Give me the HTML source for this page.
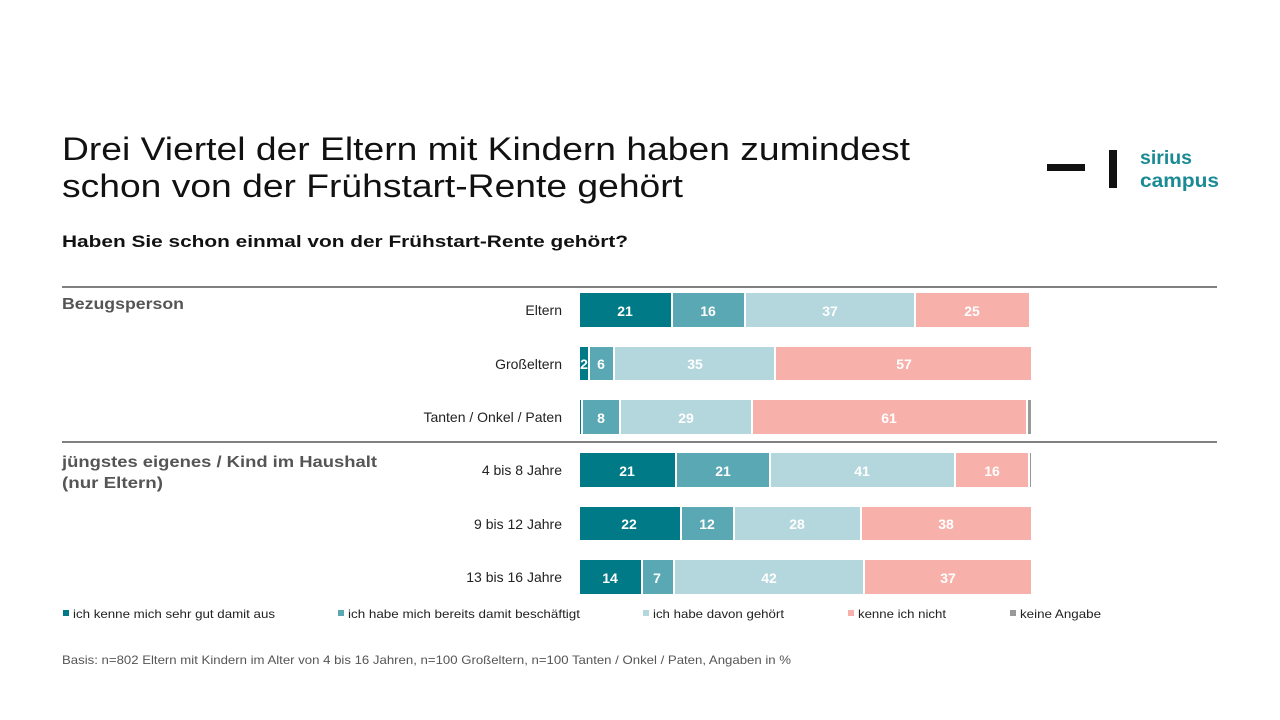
<!DOCTYPE html>
<html><head><meta charset="utf-8"><style>html,body{margin:0;padding:0;background:#fff}svg{display:block}</style></head>
<body>
<svg width="1280" height="720" xmlns="http://www.w3.org/2000/svg" font-family="Liberation Sans, sans-serif">
<text x="62" y="160" font-size="32" fill="#111" textLength="848" lengthAdjust="spacingAndGlyphs">Drei Viertel der Eltern mit Kindern haben zumindest</text>
<text x="62" y="197" font-size="32" fill="#111" textLength="621" lengthAdjust="spacingAndGlyphs">schon von der Frühstart-Rente gehört</text>
<text x="62" y="247" font-size="17" font-weight="bold" fill="#111" textLength="566" lengthAdjust="spacingAndGlyphs">Haben Sie schon einmal von der Frühstart-Rente gehört?</text>
<rect x="1047" y="164" width="38" height="7" fill="#111"/>
<rect x="1109" y="150" width="8" height="38" fill="#111"/>
<text x="1140" y="164" font-size="19" font-weight="bold" fill="#1a8a94" textLength="52" lengthAdjust="spacingAndGlyphs">sirius</text>
<text x="1140" y="187" font-size="19" font-weight="bold" fill="#1a8a94" textLength="79" lengthAdjust="spacingAndGlyphs">campus</text>
<line x1="62" y1="287" x2="1217" y2="287" stroke="#808080" stroke-width="2"/>
<line x1="62" y1="442" x2="1217" y2="442" stroke="#808080" stroke-width="2"/>
<g font-size="16" font-weight="bold" fill="#555">
<text x="62" y="309" textLength="122" lengthAdjust="spacingAndGlyphs">Bezugsperson</text>
<text x="62" y="467" textLength="315" lengthAdjust="spacingAndGlyphs">jüngstes eigenes / Kind im Haushalt</text>
<text x="62" y="488" textLength="101" lengthAdjust="spacingAndGlyphs">(nur Eltern)</text>
</g>
<g font-size="14" fill="#222" text-anchor="end">
<text x="562" y="315">Eltern</text>
<text x="562" y="369">Großeltern</text>
<text x="562" y="422">Tanten / Onkel / Paten</text>
<text x="562" y="475">4 bis 8 Jahre</text>
<text x="562" y="529">9 bis 12 Jahre</text>
<text x="562" y="582">13 bis 16 Jahre</text>
</g>
<g>
<rect x="580" y="293" width="91" height="34" fill="#007a87"/><rect x="673" y="293" width="71" height="34" fill="#5aa8b3"/><rect x="746" y="293" width="168" height="34" fill="#b3d7dd"/><rect x="916" y="293" width="113" height="34" fill="#f8b0aa"/>
<rect x="580" y="347" width="8" height="33" fill="#007a87"/><rect x="590" y="347" width="23" height="33" fill="#5aa8b3"/><rect x="615" y="347" width="159" height="33" fill="#b3d7dd"/><rect x="776" y="347" width="255" height="33" fill="#f8b0aa"/>
<rect x="580" y="400" width="1" height="34" fill="#007a87"/><rect x="583" y="400" width="36" height="34" fill="#5aa8b3"/><rect x="621" y="400" width="130" height="34" fill="#b3d7dd"/><rect x="753" y="400" width="273" height="34" fill="#f8b0aa"/><rect x="1028" y="400" width="3" height="34" fill="#999"/>
<rect x="580" y="453" width="95" height="34" fill="#007a87"/><rect x="677" y="453" width="92" height="34" fill="#5aa8b3"/><rect x="771" y="453" width="183" height="34" fill="#b3d7dd"/><rect x="956" y="453" width="72" height="34" fill="#f8b0aa"/><rect x="1030" y="453" width="1" height="34" fill="#999"/>
<rect x="580" y="507" width="100" height="33" fill="#007a87"/><rect x="682" y="507" width="51" height="33" fill="#5aa8b3"/><rect x="735" y="507" width="125" height="33" fill="#b3d7dd"/><rect x="862" y="507" width="169" height="33" fill="#f8b0aa"/>
<rect x="580" y="560" width="61" height="34" fill="#007a87"/><rect x="643" y="560" width="30" height="34" fill="#5aa8b3"/><rect x="675" y="560" width="188" height="34" fill="#b3d7dd"/><rect x="865" y="560" width="166" height="34" fill="#f8b0aa"/>
</g>
<g font-size="14" font-weight="bold" fill="#fff" text-anchor="middle">
<text x="625" y="316">21</text><text x="708" y="316">16</text><text x="830" y="316">37</text><text x="972" y="316">25</text>
<text x="584" y="369">2</text><text x="601" y="369">6</text><text x="695" y="369">35</text><text x="904" y="369">57</text>
<text x="601" y="423">8</text><text x="686" y="423">29</text><text x="889" y="423">61</text>
<text x="627" y="476">21</text><text x="723" y="476">21</text><text x="862" y="476">41</text><text x="992" y="476">16</text>
<text x="629" y="529">22</text><text x="707" y="529">12</text><text x="797" y="529">28</text><text x="946" y="529">38</text>
<text x="610" y="583">14</text><text x="657" y="583">7</text><text x="769" y="583">42</text><text x="948" y="583">37</text>
</g>
<g font-size="12" fill="#222">
<rect x="63" y="610" width="6" height="6" fill="#007a87"/><text x="73" y="618" textLength="202" lengthAdjust="spacingAndGlyphs">ich kenne mich sehr gut damit aus</text>
<rect x="338" y="610" width="6" height="6" fill="#5aa8b3"/><text x="348" y="618" textLength="232" lengthAdjust="spacingAndGlyphs">ich habe mich bereits damit beschäftigt</text>
<rect x="643" y="610" width="6" height="6" fill="#b3d7dd"/><text x="653" y="618" textLength="131" lengthAdjust="spacingAndGlyphs">ich habe davon gehört</text>
<rect x="848" y="610" width="6" height="6" fill="#f8b0aa"/><text x="858" y="618" textLength="88" lengthAdjust="spacingAndGlyphs">kenne ich nicht</text>
<rect x="1010" y="610" width="6" height="6" fill="#999"/><text x="1020" y="618" textLength="81" lengthAdjust="spacingAndGlyphs">keine Angabe</text>
</g>
<text x="62" y="664" font-size="12" fill="#555" textLength="729" lengthAdjust="spacingAndGlyphs">Basis: n=802 Eltern mit Kindern im Alter von 4 bis 16 Jahren, n=100 Großeltern, n=100 Tanten / Onkel / Paten, Angaben in %</text>
</svg>
</body></html>
